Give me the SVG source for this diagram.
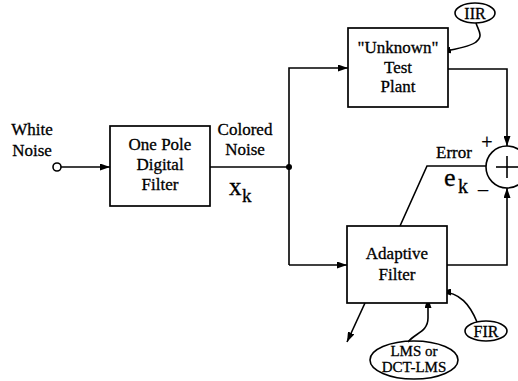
<svg xmlns="http://www.w3.org/2000/svg" width="518" height="381" viewBox="0 0 518 381">
<defs>
<marker id="ah" markerWidth="10" markerHeight="7" refX="10" refY="3.5" orient="auto" markerUnits="userSpaceOnUse">
<path d="M0,0 L10,3.5 L0,7 z" fill="#000"/>
</marker>
<style>
.box{fill:#fff;stroke:#000;stroke-width:1.7}
.ln{fill:none;stroke:#000;stroke-width:1.6}
.t{font-family:"Liberation Serif","Times New Roman",serif;font-size:17px;fill:#000;stroke:#000;stroke-width:0.3;text-anchor:middle}
.s{font-size:15px}
.m{font-size:16px}
.big{font-family:"Liberation Serif","Times New Roman",serif;fill:#000;stroke:#000;stroke-width:0.3}
</style>
</defs>
<rect width="518" height="381" fill="#fff"/>

<g id="connectors">
<circle cx="57" cy="167" r="4" class="ln" fill="#fff"/>
<line x1="61" y1="167" x2="110" y2="167" class="ln" marker-end="url(#ah)"/>
<line x1="210" y1="167" x2="289" y2="167" class="ln"/>
<circle cx="289" cy="167" r="3" fill="#000"/>
<polyline points="289,265 289,68 348,68" class="ln" marker-end="url(#ah)"/>
<line x1="289" y1="265" x2="347" y2="265" class="ln" marker-end="url(#ah)"/>
<polyline points="448,69 507,69 507,146" class="ln" marker-end="url(#ah)"/>
<polyline points="447,265 507,265 507,188" class="ln" marker-end="url(#ah)"/>
<polyline points="486,166 427,166 400,226" class="ln"/>
<line x1="365" y1="303" x2="347" y2="342" class="ln" marker-end="url(#ah)"/>
<path d="M408,342 C415,333 428,332 428,318 L428,298" class="ln" marker-end="url(#ah)"/>
<path d="M477,322 C470,305 460,292 441,292" class="ln" marker-end="url(#ah)"/>
<path d="M476,23 C478,30 484,36 476,42 C470,47 455,49 441,52" class="ln" marker-end="url(#ah)"/>
</g>

<g id="white-noise">
<text class="t" x="32" y="135">White</text>
<text class="t" x="32" y="156">Noise</text>
</g>

<g id="one-pole-filter">
<rect class="box" x="110" y="126" width="100" height="80"/>
<text class="t" x="160" y="150">One Pole</text>
<text class="t" x="160" y="170">Digital</text>
<text class="t" x="160" y="190">Filter</text>
</g>

<g id="colored-noise">
<text class="t" x="245" y="135">Colored</text>
<text class="t" x="245" y="155">Noise</text>
<text class="big" x="229" y="195" font-size="25">x</text>
<text class="big" x="242" y="202" font-size="19">k</text>
</g>

<g id="test-plant">
<rect class="box" x="348" y="28" width="100" height="79"/>
<text class="t" x="398" y="53">"Unknown"</text>
<text class="t" x="398" y="73">Test</text>
<text class="t" x="398" y="92">Plant</text>
</g>

<g id="iir">
<ellipse cx="475" cy="13" rx="20" ry="10" class="ln" fill="#fff"/>
<text class="t m" x="475" y="19">IIR</text>
</g>

<g id="adaptive-filter">
<rect class="box" x="347" y="226" width="100" height="77"/>
<text class="t" x="397" y="259">Adaptive</text>
<text class="t" x="397" y="280">Filter</text>
</g>

<g id="fir">
<ellipse cx="486" cy="331" rx="21" ry="10" class="ln" fill="#fff"/>
<text class="t m" x="486" y="337">FIR</text>
</g>

<g id="lms">
<ellipse cx="414" cy="360" rx="44" ry="19" class="ln" fill="#fff"/>
<text class="t s" x="414" y="356">LMS or</text>
<text class="t s" x="414" y="372">DCT-LMS</text>
</g>

<g id="summer">
<circle cx="507" cy="167" r="21" class="ln" fill="#fff"/>
<line x1="496" y1="167" x2="518" y2="167" class="ln"/>
<line x1="507" y1="156" x2="507" y2="178" class="ln"/>
<text class="t" x="487" y="149" style="font-size:20px">+</text>
<text class="t" x="483" y="196" style="font-size:20px">–</text>
<text class="t" x="454" y="158">Error</text>
<text class="big" x="444" y="186" font-size="26">e</text>
<text class="big" x="458" y="193" font-size="20">k</text>
</g>
</svg>
